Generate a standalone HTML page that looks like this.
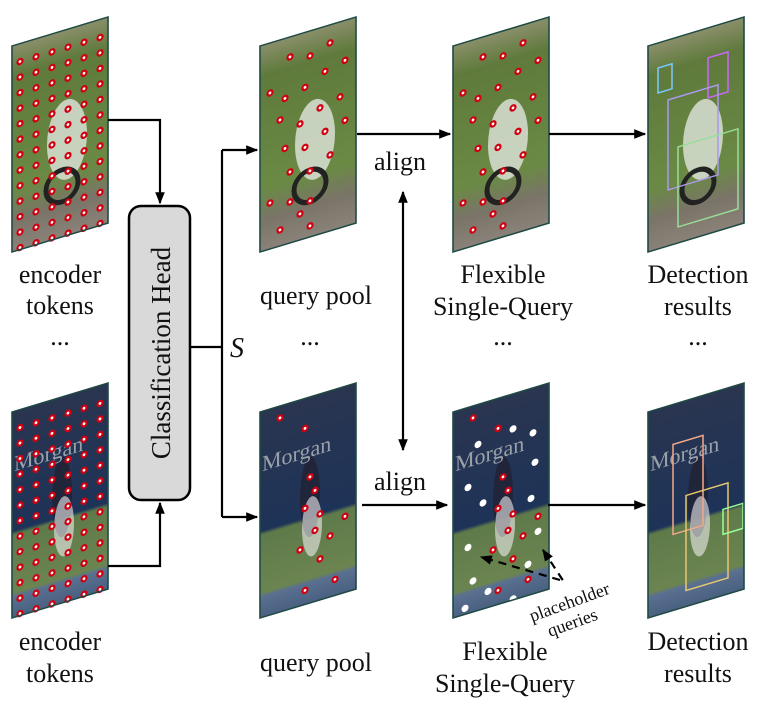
<!DOCTYPE html>
<html><head><meta charset="utf-8">
<style>
html,body{margin:0;padding:0;background:#fff;}
svg{display:block;}
text{font-family:"Liberation Serif",serif;fill:#111;}
</style></head>
<body>
<svg id="s" width="757" height="708" viewBox="0 0 757 708" xmlns="http://www.w3.org/2000/svg">
<defs>
<linearGradient id="gTop" x1="0" y1="0" x2="0" y2="1">
<stop offset="0" stop-color="#8a8f6a"/><stop offset="0.15" stop-color="#5f7a3c"/>
<stop offset="0.7" stop-color="#6a8a44"/><stop offset="0.85" stop-color="#7a7468"/><stop offset="1" stop-color="#8a8278"/>
</linearGradient>
<linearGradient id="gBot" x1="0" y1="0" x2="0" y2="1">
<stop offset="0" stop-color="#2a3550"/><stop offset="0.58" stop-color="#1e3358"/>
<stop offset="0.6" stop-color="#5f7a4a"/><stop offset="0.88" stop-color="#6b8450"/><stop offset="0.9" stop-color="#5a7090"/><stop offset="1" stop-color="#4a6080"/>
</linearGradient>
<marker id="ar2" viewBox="0 0 10 10" refX="9" refY="5" markerWidth="12" markerHeight="12" orient="auto-start-reverse" markerUnits="userSpaceOnUse">
<path d="M0,1 L10,5 L0,9 z" fill="#000"/></marker>
</defs>
<g id="panels"></g>

<rect x="129" y="206" width="61" height="294" rx="12" fill="#d9d9d9" stroke="#000" stroke-width="2.5"/>
<text transform="translate(170,353) rotate(-90)" text-anchor="middle" font-size="27">Classification Head</text>

<g stroke="#000" stroke-width="2.2" fill="none">
<path d="M108 120 H160 V203" marker-end="url(#ar2)"/>
<path d="M108 566 H160 V503" marker-end="url(#ar2)"/>
<path d="M190 347 H222"/>
<path d="M222 150 V517"/>
<path d="M222 150 H257" marker-end="url(#ar2)"/>
<path d="M222 517 H257" marker-end="url(#ar2)"/>
<path d="M357 134 H450" marker-end="url(#ar2)"/>
<path d="M549 134 H645" marker-end="url(#ar2)"/>
<path d="M362 505 H447" marker-end="url(#ar2)"/>
<path d="M548 505 H645" marker-end="url(#ar2)"/>
<path d="M403 192 V450" marker-start="url(#ar2)" marker-end="url(#ar2)"/>
<path d="M543 550 L564 582" stroke-dasharray="8,6" marker-start="url(#ar2)"/>
<path d="M560 580 L481 557" stroke-dasharray="8,6" marker-end="url(#ar2)"/>
</g>

<text x="230" y="357" font-size="28" font-style="italic">S</text>
<text x="374" y="170" font-size="26">align</text>
<text x="374" y="490" font-size="26">align</text>

<g font-size="26" text-anchor="middle">
<text x="60" y="283">encoder</text><text x="60" y="314">tokens</text><text x="60" y="345">...</text>
<text x="316" y="304">query pool</text><text x="310" y="345">...</text>
<text x="503" y="283">Flexible</text><text x="503" y="315">Single-Query</text><text x="503" y="345">...</text>
<text x="698" y="283">Detection</text><text x="698" y="315">results</text><text x="698" y="345">...</text>
<text x="60" y="650">encoder</text><text x="60" y="682">tokens</text>
<text x="316" y="671">query pool</text>
<text x="505" y="660">Flexible</text><text x="505" y="692">Single-Query</text>
<text x="698" y="650">Detection</text><text x="698" y="682">results</text>
</g>
<text transform="translate(532,622) rotate(-20)" font-size="18">placeholder</text>
<text transform="translate(550,637) rotate(-20)" font-size="18">queries</text>
</svg>
<script>
var NS="http://www.w3.org/2000/svg";
var P=document.getElementById("panels");
function el(n,a,p){var e=document.createElementNS(NS,n);for(var k in a)e.setAttribute(k,a[k]);(p||P).appendChild(e);return e;}
var cols=[12,260,453,648];
function panel(x,y,bot,ci){
  var g=el("g",{transform:"matrix(1,-0.302,0,1,"+x+","+(y+29)+")"});
  el("rect",{x:0,y:0,width:96,height:206,fill:bot?"url(#gBot)":"url(#gTop)"},g);
  if(!bot){el("ellipse",{cx:55,cy:110,rx:20,ry:40,fill:"#e8ece8",opacity:0.75},g);el("circle",{cx:50,cy:155,r:16,fill:"none",stroke:"#222",'stroke-width':5},g);}
  else{el("ellipse",{cx:50,cy:100,rx:10,ry:40,fill:"#223",opacity:0.8},g);el("ellipse",{cx:52,cy:130,rx:10,ry:30,fill:"#eee",opacity:0.6},g);el("text",{x:2,y:60,'font-size':22,style:"fill:#9aa0a8"},g).textContent="Morgan";}
  if(ci==0){for(var i=0;i<6;i++)for(var j=0;j<13;j++){dot(g,8+i*16,18+j*15.5);}}
  else if(ci==1||ci==2){var pts=bot?[[20,12],[45,30],[50,80],[55,95],[45,110],[60,120],[55,135],[70,145],[40,150],[60,165],[75,190],[45,192],[85,130]]:[[30,20],[50,25],[70,18],[10,50],[25,60],[45,55],[65,45],[85,40],[20,80],[40,90],[60,80],[80,75],[25,110],[45,115],[65,105],[85,100],[30,135],[50,140],[70,130],[10,160],[30,165],[50,170],[20,190],[50,195],[40,180]];
    pts.forEach(function(p){dot(g,p[0],p[1]);});
    if(ci==2&&bot){[[25,40],[60,35],[80,45],[15,80],[82,75],[30,100],[78,110],[15,140],[85,145],[20,175],[35,190],[75,175],[12,200],[60,205]].forEach(function(p){el("circle",{cx:p[0],cy:p[1],r:3.5,fill:"#fff"},g);});}
  } else {
    if(bot){el("rect",{x:25,y:40,width:30,height:90,fill:"none",stroke:"#f4a88a",'stroke-width':1.5},g);el("rect",{x:38,y:95,width:42,height:95,fill:"none",stroke:"#e8c870",'stroke-width':1.5},g);el("rect",{x:75,y:120,width:20,height:25,fill:"none",stroke:"#9f9",'stroke-width':1.5},g);}
    else{el("rect",{x:10,y:25,width:14,height:25,fill:"none",stroke:"#7cf",'stroke-width':1.5},g);el("rect",{x:60,y:30,width:20,height:40,fill:"none",stroke:"#c6f",'stroke-width':1.5},g);el("rect",{x:20,y:60,width:50,height:90,fill:"none",stroke:"#a9e",'stroke-width':1.5},g);el("rect",{x:30,y:110,width:60,height:80,fill:"none",stroke:"#9d9",'stroke-width':1.5},g);}
  }
  el("rect",{x:0,y:0,width:96,height:206,fill:"none",stroke:"#1f4a44",'stroke-width':1.6},g);
}
function dot(g,cx,cy){el("circle",{cx:cx,cy:cy,r:3.6,fill:"#d00010"},g);el("circle",{cx:cx,cy:cy,r:1.4,fill:"#fff"},g);}
cols.forEach(function(x,i){panel(x,17,false,i);panel(x,383,true,i);});
</script>
</body></html>
